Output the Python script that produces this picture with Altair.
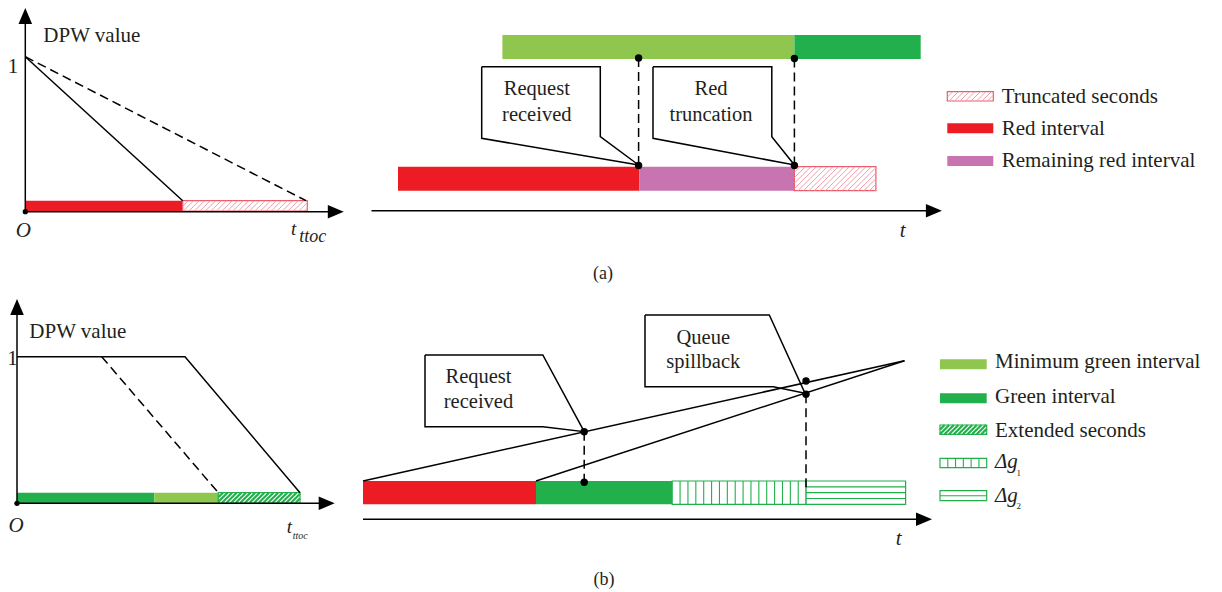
import altair as alt
import pandas as pd

PAGE_W, PAGE_H, MARGIN = 1222, 592, 8
FONT = "Liberation Serif, Times New Roman, Times, serif"

RED = "#ED1C24"
PURPLE = "#C874B0"
LGREEN = "#8FC74E"
DGREEN = "#21B04B"
PINK_LINE = "#F29DA8"
PINK_EDGE = "#EC5A6A"

# ---------------- solid bars (x0, x1, y0, y1 in figure pixels) ----------------
bar_x0 = [25.3, 398.0, 639.4, 502.4, 794.4, 17.0, 154.3, 363.0, 536.0, 947.3, 947.3, 940.0, 940.0]
bar_x1 = [182.7, 639.4, 794.4, 794.4, 920.7, 154.3, 218.3, 536.0, 672.2, 993.3, 993.3, 986.7, 986.7]
bar_y0 = [200.7, 166.7, 166.7, 35.0, 35.0, 492.7, 492.7, 481.0, 481.0, 123.3, 156.0, 359.3, 393.3]
bar_y1 = [211.0, 190.7, 190.7, 59.0, 59.0, 503.0, 503.0, 504.3, 504.3, 133.3, 166.0, 369.3, 403.3]
bar_fill = [RED, RED, PURPLE, LGREEN, DGREEN, DGREEN, LGREEN, RED, DGREEN, RED, PURPLE, LGREEN, DGREEN]

# ---------------- patterned boxes ----------------
box_x0 = [182.7, 794.4, 947.3, 218.3, 940.0, 672.2, 940.0, 806.1, 940.0]
box_x1 = [307.3, 875.9, 993.3, 300.0, 986.7, 806.1, 986.7, 905.6, 986.7]
box_y0 = [200.7, 166.7, 91.7, 492.7, 425.0, 481.0, 458.3, 481.0, 490.7]
box_y1 = [211.0, 190.7, 101.0, 503.0, 434.3, 504.3, 467.7, 504.3, 500.7]
box_kind = ["pink", "pink", "pink", "green", "green", "vert", "vert", "horz", "horz"]
box_cells = [0, 0, 0, 0, 0, 17, 6, 4, 2]

# ---------------- polylines ----------------
solid_lines = {
    "tl_y": [(25.3, 211.7), (25.3, 20)],
    "tl_x": [(25.3, 211.7), (330, 211.7)],
    "tl_red": [(25.3, 56.7), (182.7, 200.7)],
    "tr_t": [(371.5, 210.7), (928, 210.7)],
    "call_a1": [(481.7, 66.7), (600.3, 66.7), (600.3, 136.7), (638.6, 165.0), (481.7, 138.3), (481.7, 66.7)],
    "call_a2": [(653.0, 66.7), (771.8, 66.7), (771.8, 136.7), (794.4, 165.0), (653.0, 138.3), (653.0, 66.7)],
    "bl_y": [(17, 503.3), (17, 312)],
    "bl_x": [(17, 503.3), (320, 503.3)],
    "bl_dpw": [(17, 356.7), (185, 356.7), (300, 492.7)],
    "br_t": [(363, 519.3), (918, 519.3)],
    "br_a": [(363, 481.0), (904.5, 360.7)],
    "br_b": [(536, 481.0), (904.5, 360.7)],
    "call_b1": [(425, 355), (542.8, 355), (584.2, 431.7), (542.8, 426.7), (425, 426.7), (425, 355)],
    "call_b2": [(645, 315), (769.3, 315), (805, 393.3), (773.3, 386.7), (645, 386.7), (645, 315)],
}
dashed_lines = {
    "tl_dash": [(25.3, 56.7), (306, 200.7)],
    "tr_d1": [(638.6, 58), (638.6, 166)],
    "tr_d2": [(794.4, 58.5), (794.4, 166)],
    "bl_dash": [(101.7, 356.7), (218.3, 492.7)],
    "br_d1": [(584.2, 431.7), (584.2, 482.3)],
    "br_d2": [(806, 394.3), (806, 490)],
}

# ---------------- dots ----------------
dot_x = [638.6, 794.4, 638.6, 794.4, 584.2, 584.2, 806.0, 806.0]
dot_y = [58.0, 58.5, 165.5, 165.5, 431.7, 482.3, 381.0, 394.3]
origin_x = [25.3, 17.0]
origin_y = [211.7, 503.3]

# ---------------- arrow heads ----------------
arrow_x = [25.3, 335.8, 933.9, 17.0, 326.7, 924.0]
arrow_y = [16.0, 211.7, 210.7, 307.0, 503.3, 519.3]
arrow_dir = ["up", "right", "right", "up", "right", "right"]

# ---------------- texts ----------------
txt = [
    # text, x, baseline y, size, style, align
    ("DPW value", 43.3, 41.7, 21, "roman", "left"),
    ("DPW value", 29.3, 338.3, 21, "roman", "left"),
    ("Truncated seconds", 1001.7, 103.3, 21, "roman", "left"),
    ("Red interval", 1001.7, 135.0, 21, "roman", "left"),
    ("Remaining red interval", 1001.7, 166.7, 21, "roman", "left"),
    ("Minimum green interval", 995.0, 368.3, 21, "roman", "left"),
    ("Green interval", 995.0, 403.3, 21, "roman", "left"),
    ("Extended seconds", 995.0, 436.7, 21, "roman", "left"),
    ("1", 13.0, 72.7, 21, "roman", "center"),
    ("1", 12.5, 365.0, 21, "roman", "center"),
    ("Request", 536.8, 95.0, 20.5, "roman", "center"),
    ("received", 536.8, 120.7, 20.5, "roman", "center"),
    ("Red", 711.0, 95.0, 20.5, "roman", "center"),
    ("truncation", 711.0, 120.7, 20.5, "roman", "center"),
    ("Request", 478.5, 383.3, 20.5, "roman", "center"),
    ("received", 478.5, 408.3, 20.5, "roman", "center"),
    ("Queue", 703.3, 344.3, 20.5, "roman", "center"),
    ("spillback", 703.3, 368.3, 20.5, "roman", "center"),
    ("(a)", 603.0, 279.0, 18, "roman", "center"),
    ("(b)", 604.0, 585.0, 18, "roman", "center"),
    ("1", 1016.5, 476.0, 9, "roman", "left"),
    ("2", 1016.5, 509.0, 9, "roman", "left"),
    ("O", 23.3, 236.7, 21, "italic", "center"),
    ("O", 16.0, 531.7, 21, "italic", "center"),
    ("t", 902.7, 236.7, 21, "italic", "center"),
    ("t", 898.7, 545.0, 21, "italic", "center"),
    ("t", 291.0, 235.0, 19, "italic", "left"),
    ("ttoc", 299.3, 241.5, 18, "italic", "left"),
    ("t", 286.7, 533.0, 19, "italic", "left"),
    ("ttoc", 292.7, 539.0, 10, "italic", "left"),
    ("Δg", 995.0, 468.3, 21, "italic", "left"),
    ("Δg", 995.0, 501.7, 21, "italic", "left"),
]

# ================= build tables =================
bars = pd.DataFrame({"x": bar_x0, "x2": bar_x1, "y": bar_y0, "y2": bar_y1, "fill": bar_fill})

box_stroke = {"pink": PINK_EDGE, "green": DGREEN, "vert": DGREEN, "horz": DGREEN}
boxes = pd.DataFrame({"x": box_x0, "x2": box_x1, "y": box_y0, "y2": box_y1,
                      "stroke": [box_stroke[k] for k in box_kind]})


def diag(x0, x1, y0, y1, step):
    h = y1 - y0
    out = []
    c = x0 - h
    while c < x1:
        tmin = max(0.0, (x0 - c) / h)
        tmax = min(1.0, (x1 - c) / h)
        if tmax > tmin:
            out.append((c + tmin * h, y1 - tmin * h, c + tmax * h, y1 - tmax * h))
        c += step
    return out


hatch_rows = []
for x0, x1, y0, y1, kind, cells in zip(box_x0, box_x1, box_y0, box_y1, box_kind, box_cells):
    if kind == "pink":
        for s in diag(x0, x1, y0, y1, 5.5):
            hatch_rows.append(dict(x=s[0], y=s[1], x2=s[2], y2=s[3], c=PINK_LINE, w=1.0))
    elif kind == "green":
        for s in diag(x0, x1, y0, y1, 4.6):
            hatch_rows.append(dict(x=s[0], y=s[1], x2=s[2], y2=s[3], c=DGREEN, w=2.2))
    elif kind == "vert":
        for k in range(1, cells):
            xx = x0 + k * (x1 - x0) / cells
            hatch_rows.append(dict(x=xx, y=y0, x2=xx, y2=y1, c=DGREEN, w=1.1))
    elif kind == "horz":
        for k in range(1, cells):
            yy = y0 + k * (y1 - y0) / cells
            hatch_rows.append(dict(x=x0, y=yy, x2=x1, y2=yy, c=DGREEN, w=1.1))
hatch = pd.DataFrame(hatch_rows)


def poly_table(d):
    rows = []
    for name, pts in d.items():
        for i, (px, py) in enumerate(pts):
            rows.append(dict(id=name, i=i, x=px, y=py))
    return pd.DataFrame(rows)


solid_df = poly_table(solid_lines)
dashed_df = poly_table(dashed_lines)
dots = pd.DataFrame({"x": dot_x, "y": dot_y})
origins = pd.DataFrame({"x": origin_x, "y": origin_y})
arrows = pd.DataFrame({"x": arrow_x, "y": arrow_y, "d": arrow_dir})
texts = pd.DataFrame(txt, columns=["text", "x", "y", "size", "style", "align"])

# ================= scales (figure pixel -> page pixel, 1:1) =================
CW = PAGE_W - 2 * MARGIN
CH = PAGE_H - MARGIN
XS = alt.Scale(domain=[MARGIN, MARGIN + CW], nice=False, zero=False)
YS = alt.Scale(domain=[MARGIN + CH, MARGIN], nice=False, zero=False)
X = lambda f="x": alt.X(f"{f}:Q", scale=XS, axis=None)
Y = lambda f="y": alt.Y(f"{f}:Q", scale=YS, axis=None)

layers = []

layers.append(alt.Chart(bars).mark_rect().encode(
    x=X(), x2="x2", y=Y(), y2="y2", color=alt.Color("fill:N", scale=None)))

layers.append(alt.Chart(boxes).mark_rect(fill="white", strokeWidth=1.2).encode(
    x=X(), x2="x2", y=Y(), y2="y2", stroke=alt.Stroke("stroke:N", scale=None)))

layers.append(alt.Chart(hatch).mark_rule().encode(
    x=X(), x2="x2", y=Y(), y2="y2",
    color=alt.Color("c:N", scale=None), size=alt.Size("w:Q", scale=None)))

layers.append(alt.Chart(solid_df).mark_line(color="black", strokeWidth=1.5).encode(
    x=X(), y=Y(), detail="id:N", order="i:Q"))

layers.append(alt.Chart(dashed_df).mark_line(color="black", strokeWidth=1.5, strokeDash=[9, 5]).encode(
    x=X(), y=Y(), detail="id:N", order="i:Q"))

layers.append(alt.Chart(dots).mark_circle(color="black", opacity=1, size=55).encode(x=X(), y=Y()))
layers.append(alt.Chart(origins).mark_circle(color="black", opacity=1, size=28).encode(x=X(), y=Y()))

UP = "M0,-1L0.85,1L-0.85,1Z"
RIGHT = "M1,0L-1,0.85L-1,-0.85Z"
for d, path in (("up", UP), ("right", RIGHT)):
    sub = arrows[arrows.d == d]
    layers.append(alt.Chart(sub).mark_point(shape=path, filled=True, color="black",
                                            opacity=1, size=256, strokeWidth=0).encode(x=X(), y=Y()))

for (style, align), sub in texts.groupby(["style", "align"]):
    layers.append(alt.Chart(sub).mark_text(font=FONT, fontStyle=style if style == "italic" else "normal",
                                           align=align, baseline="alphabetic", color="#231F20").encode(
        x=X(), y=Y(), text="text:N", size=alt.Size("size:Q", scale=None)))

chart = alt.layer(*layers).properties(
    width=CW, height=CH,
    autosize=alt.AutoSizeParams(type="none"), padding=0, background="white"
).configure_view(stroke=None)

chart.save("out.html", embed_options={"renderer": "svg", "actions": False})
